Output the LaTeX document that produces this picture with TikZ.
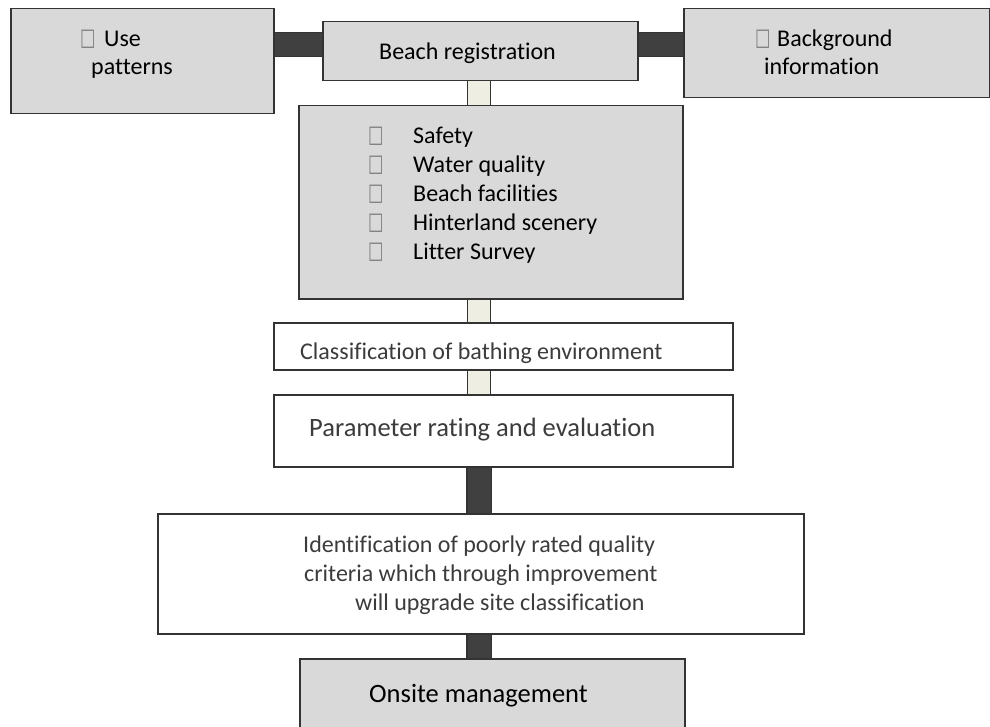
\documentclass[tikz,border=0pt]{standalone}
\usepackage{fontspec}
\setmainfont[Ligatures=NoCommon]{Carlito}
\newfontfamily\symfont{DejaVu Sans}
\usepackage{xcolor}
\usepackage{graphicx}
\usepackage{tikz}
\usetikzlibrary{backgrounds}
\definecolor{boxgray}{HTML}{D9D9D9}
\definecolor{edgegray}{HTML}{333333}
\definecolor{bardark}{HTML}{404040}
\definecolor{barlight}{HTML}{EEEEE2}
\definecolor{textgray}{HTML}{3C3C3C}
\newcommand{\tofu}{\raisebox{1pt}{\scalebox{0.68}[1]{\symfont\fontsize{24}{24}\selectfont\textcolor{gray}{□}}}}
\newcommand{\tofubox}[1]{\makebox[#1][l]{\tofu}}

\begin{document}
\begin{tikzpicture}[x=1pt,y=-1pt]
  \tikzstyle{graybox}=[draw=edgegray,line width=1.5pt,fill=boxgray,anchor=north west,inner sep=0pt]
  \tikzstyle{whitebox}=[graybox,fill=white]
  \tikzstyle{txt}=[anchor=base west,inner sep=0pt,font=\fontsize{24}{29}\selectfont]
  \tikzstyle{graytxt}=[txt,text=textgray]
  \tikzstyle{bigtxt}=[txt,font=\fontsize{26.5}{32}\selectfont]
  \tikzstyle{darklink}=[draw=edgegray,line width=1.2pt,double=bardark,double distance=23pt]
  \tikzstyle{lightlink}=[draw=edgegray,line width=1.2pt,double=barlight,double distance=21.6pt]
  \useasboundingbox (0,0) rectangle (990,727);

  \node[graybox,minimum width=263pt,minimum height=105pt] (use) at (10,8) {};
  \node[graybox,minimum width=315pt,minimum height=59pt] (reg) at (322,21) {};
  \node[graybox,minimum width=306pt,minimum height=89pt] (bg) at (683,8) {};
  \node[graybox,minimum width=384pt,minimum height=193pt] (crit) at (298,105) {};
  \node[whitebox,minimum width=459pt,minimum height=47pt] (cls) at (273,322) {};
  \node[whitebox,minimum width=459pt,minimum height=72pt] (par) at (273,394) {};
  \node[whitebox,minimum width=646pt,minimum height=120pt] (ident) at (157,513) {};
  \node[graybox,minimum width=385pt,minimum height=90pt] (onsite) at (299,658) {};

  \coordinate (hbar) at (0,44.5);
  \coordinate (vbar) at (479,0);
  \begin{scope}[on background layer]
    \draw[darklink] (use.east |- hbar) -- (reg.west |- hbar);
    \draw[darklink] (reg.east |- hbar) -- (bg.west |- hbar);
    \draw[lightlink] (vbar |- reg.south) -- (vbar |- crit.north);
    \draw[lightlink] (vbar |- crit.south) -- (vbar |- cls.north);
    \draw[lightlink] (vbar |- cls.south) -- (vbar |- par.north);
    \draw[darklink] (vbar |- par.south) -- (vbar |- ident.north);
    \draw[darklink] (vbar |- ident.south) -- (vbar |- onsite.north);
  \end{scope}

  \node[txt] (usea) at (80,47) {\tofubox{24pt}Use};
  \node[txt] (useb) at (91,75) {patterns};
  \node[txt] (regtxt) at (379,60) {Beach registration};
  \node[txt] (bga) at (755,47) {\tofubox{22pt}Background};
  \node[txt] (bgb) at (764,75) {information};
  \node[txt] (safety) at (368,144) {\tofubox{45pt}Safety};
  \node[txt] (water) at (368,173) {\tofubox{45pt}Water quality};
  \node[txt] (facil) at (368,202) {\tofubox{45pt}Beach facilities};
  \node[txt] (scenery) at (368,231) {\tofubox{45pt}Hinterland scenery};
  \node[txt] (litter) at (368,260) {\tofubox{45pt}Litter Survey};
  \node[graytxt] (clstxt) at (300,359) {Classification of bathing environment};
  \node[graytxt,font=\fontsize{26.5}{32}\selectfont] (partxt) at (309,436) {Parameter rating and evaluation};
  \node[graytxt] (identa) at (303,552) {Identification of poorly rated quality};
  \node[graytxt] (identb) at (304,581) {criteria which through improvement};
  \node[graytxt] (identc) at (355,610) {will upgrade site classification};
  \node[bigtxt] (onsitetxt) at (369,702) {Onsite management};
\end{tikzpicture}
\end{document}
